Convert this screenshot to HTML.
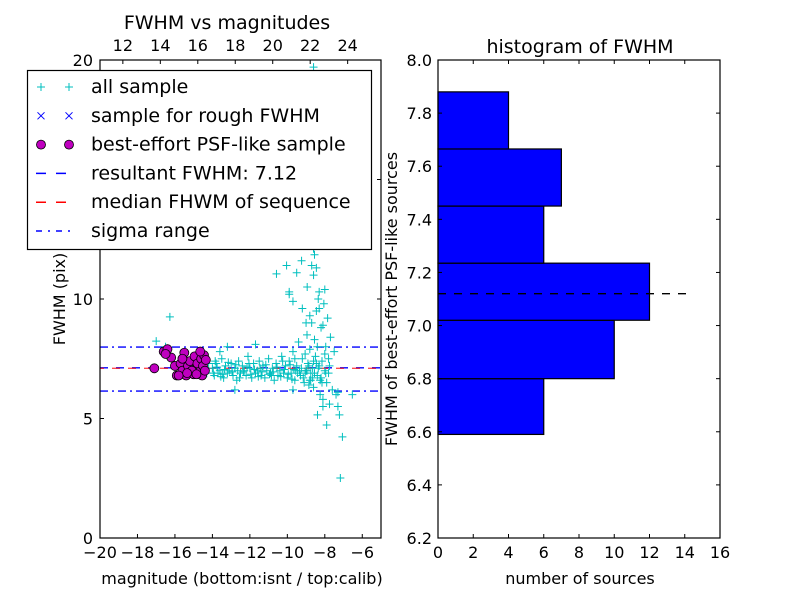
<!DOCTYPE html>
<html><head><meta charset="utf-8"><style>
body{margin:0;background:#fff;width:800px;height:600px;overflow:hidden}
svg text{font-family:"DejaVu Sans","Liberation Sans",sans-serif;fill:#000}
</style></head><body>
<svg id="fig" width="800" height="600" xmlns="http://www.w3.org/2000/svg"></svg>
<script>
// ---- data ----
const allMag = [-14.0,-13.9,-13.8,-13.7,-13.6,-13.5,-13.4,-13.3,-13.2,-13.1,-13.0,-12.9,-12.8,-12.7,-12.6,-12.5,-12.4,-12.3,-12.2,-12.1,-12.0,-11.9,-11.8,-11.7,-11.6,-11.5,-11.4,-11.3,-11.2,-11.1,-11.0,-10.9,-10.8,-10.7,-10.6,-10.5,-10.4,-10.3,-10.2,-10.1,-10.0,
-13.95,-13.75,-13.55,-13.35,-13.15,-12.95,-12.75,-12.55,-12.35,-12.15,-11.95,-11.75,-11.55,-11.35,-11.15,-10.95,-10.75,-10.55,-10.35,-10.15,-9.95,-9.85,-9.75,-9.65,-9.45,-9.25,-9.15,-8.95,-8.75,-8.55,-8.35,-8.15,-7.95,-7.75,
-14.2,-14.3,-13.85,-13.45,-12.65,-12.05,-11.45,-10.85,-10.25,-9.55,-9.05,-8.85,-8.65,-8.45,-8.25,
-13.6,-13.2,-12.8,-9.7,-11.7,
-9.9,-9.8,-9.7,-9.6,-9.5,-9.4,-9.3,-9.2,-9.1,-9.0,-8.95,-8.9,-8.85,-8.8,-8.75,-8.7,-8.65,-8.6,-8.55,-8.5,-8.45,-8.4,-8.35,-8.3,-8.25,-8.2,-8.15,-8.1,-8.05,-8.0,-7.95,-7.9,-7.85,-7.8,-7.75,-7.7,-7.6,-7.5,-7.4,-7.3,-9.6,-9.35,-9.05,-8.8,-8.6,-8.4,-8.2,-8.0,-7.8,
-10.58,-10.04,-9.24,-9.5,-8.55,-8.7,-8.45,-8.6,-9.9,-9.7,-8.94,-8.3,-8.0,-9.2,-8.8,-9.0,-8.3,-8.1,-8.6,-9.9,-8.4,-8.6,
-8.39,-7.9,-7.22,-7.06,-7.17,-6.53,-7.3,-8.1,
-16.27,-17.0,-16.5];
const allFwhm = [7.1,6.8,7.3,6.9,7.0,7.5,6.7,7.2,6.9,7.0,7.3,6.8,7.1,6.6,7.4,6.9,7.2,7.0,6.8,7.6,7.1,6.7,7.3,6.9,7.0,7.4,6.8,7.2,6.7,7.0,7.5,6.9,7.1,6.6,7.3,6.8,7.0,7.6,6.9,7.2,6.7,
6.9,7.15,6.75,7.05,7.35,6.95,7.25,6.7,6.95,7.15,6.85,7.05,6.75,6.95,7.25,6.85,6.95,7.15,6.75,7.05,6.85,7.25,6.65,7.05,6.9,7.1,6.7,7.0,6.6,6.9,7.1,6.5,6.9,7.2,
7.3,6.9,7.4,6.85,7.0,7.3,7.1,6.8,7.4,7.0,6.9,7.2,6.7,7.3,6.6,
7.8,8.0,6.2,6.2,8.1,
7.4,6.9,7.8,6.6,7.2,8.2,6.8,7.5,6.5,7.0,8.5,7.3,6.4,7.9,6.9,9.0,7.1,6.3,8.3,7.6,9.5,6.8,10.0,7.2,6.0,8.8,7.4,5.8,9.8,7.0,8.0,6.5,9.2,7.5,5.6,8.4,6.2,7.8,6.0,5.5,7.5,7.0,7.7,6.6,7.4,8.0,6.7,7.7,6.9,
11.05,11.4,11.6,11.1,11.85,11.4,11.3,11.0,10.3,9.9,10.5,10.3,10.4,9.6,9.3,9.0,9.6,8.9,19.7,10.2,12.4,12.1,
5.15,4.73,5.15,4.23,2.51,6.0,6.1,5.5,
9.25,8.24,8.0];
const bestMag = [-17.1,-16.6,-16.4,-16.2,-16.0,-15.9,-15.7,-15.6,-15.5,-15.4,-15.3,-15.2,-15.0,-14.95,-14.9,-14.8,-14.7,-14.6,-14.55,-14.5,-14.45,-14.4,-15.8,-15.1,-14.65,-16.5,-15.35,-14.85,-14.35,-15.6];
const bestFwhm = [7.1,7.8,7.9,7.55,7.2,6.8,7.3,7.0,7.75,6.8,7.2,7.4,6.85,7.6,7.05,7.3,6.95,7.5,6.8,7.2,7.65,7.0,6.8,7.0,7.8,7.7,6.9,6.85,7.45,7.5];
const resultFwhm = 7.12, medianFwhm = 7.1, sigmaHi = 7.99, sigmaLo = 6.15;
const binEdges = [6.59,6.80,7.02,7.235,7.45,7.665,7.88];
const binCounts = [6,10,12,6,7,4];
const xTicksL = [-20,-18,-16,-14,-12,-10,-8,-6];
const xTicksTop = [12,14,16,18,20,22,24];
const yTicksL = [0,5,10,15,20];
const xTicksR = [0,2,4,6,8,10,12,14,16];
const yTicksR = [6.2,6.4,6.6,6.8,7.0,7.2,7.4,7.6,7.8,8.0];
const calibOffset = 30.78;

const NS="http://www.w3.org/2000/svg";
const svg=document.getElementById('fig');
function mk(tag,attrs,parent){const e=document.createElementNS(NS,tag);for(const k in attrs)e.setAttribute(k,attrs[k]);(parent||svg).appendChild(e);return e;}
function txt(s,x,y,size,anchor,parent){const t=mk('text',{x:x,y:y,'font-size':size,'text-anchor':anchor||'middle'},parent);t.textContent=s;return t;}

const L={x0:100,x1:381,y0:538,y1:60};
const lx=v=>L.x0+(v+20)/15*(L.x1-L.x0);
const ly=v=>L.y0-v/20*(L.y0-L.y1);
const lxTop=v=>lx(v-calibOffset);
const R={x0:438,x1:720,y0:538,y1:60};
const rx=v=>R.x0+v/16*(R.x1-R.x0);
const ry=v=>R.y0-(v-6.2)/1.8*(R.y0-R.y1);

const gL=mk('g',{});


const ls=[[sigmaHi,'#0000ff','8,4,2,4','sigma-upper-line'],[sigmaLo,'#0000ff','8,4,2,4','sigma-lower-line'],[resultFwhm,'#0000ff','8,8','resultant-fwhm-line'],[medianFwhm,'#ff0000','8,8','median-fwhm-line']];
ls.forEach((l,i)=>{const e=mk('line',{x1:L.x0,x2:L.x1,y1:ly(l[0]),y2:ly(l[0]),stroke:l[1],'stroke-width':1.4,'stroke-dasharray':l[2],'stroke-dashoffset':i==3?4:0,'stroke-opacity':i==3?0.7:1},gL);

});
allMag.forEach((m,i)=>{const x=lx(m),y=ly(allFwhm[i]);const p=mk('path',{d:`M${x-4},${y}H${x+4}M${x},${y-4}V${y+4}`,stroke:'#00bfbf','stroke-width':1},gL);

});
bestMag.forEach((m,i)=>{const c=mk('circle',{cx:lx(m),cy:ly(bestFwhm[i]),r:4.5,fill:'#bf00bf',stroke:'#000','stroke-width':0.8},gL);

});
mk('rect',{x:L.x0,y:L.y1,width:L.x1-L.x0,height:L.y0-L.y1,fill:'none',stroke:'#000','stroke-width':1.2},gL);
xTicksL.forEach(v=>{const x=lx(v);mk('line',{x1:x,x2:x,y1:L.y0,y2:L.y0-4,stroke:'#000'},gL);txt(v<0?'\u2212'+(-v):v,x,558,16,'middle',gL);});
xTicksTop.forEach(v=>{const x=lxTop(v);mk('line',{x1:x,x2:x,y1:L.y1,y2:L.y1+4,stroke:'#000'},gL);txt(v,x,51,16,'middle',gL);});
yTicksL.forEach(v=>{const y=ly(v);mk('line',{x1:L.x0,x2:L.x0+4,y1:y,y2:y,stroke:'#000'},gL);mk('line',{x1:L.x1,x2:L.x1-4,y1:y,y2:y,stroke:'#000'},gL);txt(v,93,y+6,16,'end',gL);});
const t1=txt('FWHM vs magnitudes',227,29,19,'middle',gL);


const xl=txt('magnitude (bottom:isnt / top:calib)',242,584,16,'middle',gL);


const yl=txt('FWHM (pix)',0,0,16,'middle',gL);yl.setAttribute('transform','translate(65,299) rotate(-90)');



const lg=mk('g',{});


mk('rect',{x:27.5,y:70.5,width:344,height:179,fill:'#fff',stroke:'#000','stroke-width':1.2},lg);
const labels=['all sample','sample for rough FWHM','best-effort PSF-like sample','resultant FWHM: 7.12','median FHWM of sequence','sigma range'];
labels.forEach((s,i)=>{const y=87+i*28.8;
 if(i==0){[41,69].forEach(x=>mk('path',{d:`M${x-4},${y}H${x+4}M${x},${y-4}V${y+4}`,stroke:'#00bfbf'},lg));}
 if(i==1){[41,69].forEach(x=>mk('path',{d:`M${x-3.5},${y-3.5}L${x+3.5},${y+3.5}M${x-3.5},${y+3.5}L${x+3.5},${y-3.5}`,stroke:'#0000ff'},lg));}
 if(i==2){[41,69].forEach(x=>mk('circle',{cx:x,cy:y,r:4.5,fill:'#bf00bf',stroke:'#000','stroke-width':0.8},lg));}
 if(i==3)mk('line',{x1:36,x2:74,y1:y,y2:y,stroke:'#0000ff','stroke-width':1.5,'stroke-dasharray':'10,10'},lg);
 if(i==4)mk('line',{x1:36,x2:74,y1:y,y2:y,stroke:'#ff0000','stroke-width':1.5,'stroke-dasharray':'10,10'},lg);
 if(i==5)mk('line',{x1:36,x2:74,y1:y,y2:y,stroke:'#0000ff','stroke-width':1.5,'stroke-dasharray':'6,6,2,6'},lg);
 const t=txt(s,91,y+6,19,'start',lg);
 
 
});

const gR=mk('g',{});


binCounts.forEach((c,i)=>{const yT=ry(binEdges[i+1]),yB=ry(binEdges[i]);const b=mk('rect',{x:R.x0,y:yT,width:rx(c)-R.x0,height:yB-yT,fill:'#0000ff',stroke:'#000','stroke-width':1.2},gR);

});
const hl=mk('line',{x1:rx(0),x2:rx(14.5),y1:ry(resultFwhm),y2:ry(resultFwhm),stroke:'#000','stroke-width':1.4,'stroke-dasharray':'8,8'},gR);


mk('rect',{x:R.x0,y:R.y1,width:R.x1-R.x0,height:R.y0-R.y1,fill:'none',stroke:'#000','stroke-width':1.2},gR);
xTicksR.forEach(v=>{const x=rx(v);mk('line',{x1:x,x2:x,y1:R.y0,y2:R.y0-4,stroke:'#000'},gR);mk('line',{x1:x,x2:x,y1:R.y1,y2:R.y1+4,stroke:'#000'},gR);txt(v,x,558,16,'middle',gR);});
yTicksR.forEach(v=>{const y=ry(v);mk('line',{x1:R.x0,x2:R.x0+4,y1:y,y2:y,stroke:'#000'},gR);mk('line',{x1:R.x1,x2:R.x1-4,y1:y,y2:y,stroke:'#000'},gR);txt(v.toFixed(1),432,y+6,16,'end',gR);});
const t2=txt('histogram of FWHM',580,53,19,'middle',gR);


const xr=txt('number of sources',580,584,16,'middle',gR);


const yr=txt('FWHM of best-effort PSF-like sources',0,0,16,'middle',gR);yr.setAttribute('transform','translate(397,299) rotate(-90)');


</script>
</body></html>
